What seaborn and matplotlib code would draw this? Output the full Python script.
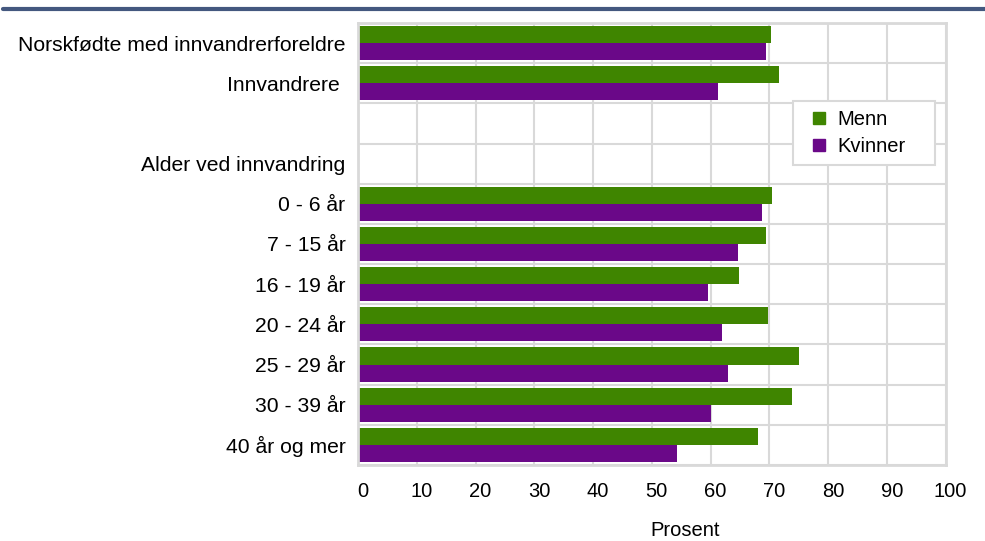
import numpy as np
import pandas as pd
import matplotlib
matplotlib.use("Agg")
import matplotlib.pyplot as plt
import matplotlib.transforms as mtransforms
from matplotlib.lines import Line2D
import seaborn as sns

# categories (top to bottom); blank row and header row have no bars
categories = ["Norskfødte med innvandrerforeldre", "Innvandrere ", " ",
              "Alder ved innvandring", "0 - 6 år", "7 - 15 år", "16 - 19 år",
              "20 - 24 år", "25 - 29 år", "30 - 39 år", "40 år og mer"]
menn = [70.2, 71.7, np.nan, np.nan, 70.4, 69.5, 64.9, 69.7, 75.0, 73.9, 68.0]
kvinner = [69.5, 61.3, np.nan, np.nan, 68.8, 64.7, 59.5, 62.0, 63.0, 60.1, 54.2]
series = ["Menn", "Kvinner"]
colors = ["#3F8500", "#6A0888"]

df = pd.DataFrame({"kategori": categories * 2,
                   "verdi": menn + kvinner,
                   "kjonn": [series[0]] * len(categories) + [series[1]] * len(categories)})

sns.set_style("white")
plt.rcParams["font.family"] = ["Liberation Sans", "DejaVu Sans"]
plt.rcParams["text.color"] = "black"
plt.rcParams["axes.labelcolor"] = "black"

fig = plt.figure(figsize=(9.85, 5.41), dpi=100)
ax = fig.add_axes([0.3635, 0.1405, 0.5965, 0.817])

sns.barplot(data=df, x="verdi", y="kategori", hue="kjonn", order=categories,
            hue_order=series, palette=colors, width=0.85, saturation=1,
            orient="h", ax=ax, legend=False, linewidth=0, edgecolor="none")

ax.set_xlim(0, 100)
ax.set_xticks(range(0, 101, 10))
ax.set_ylim(len(categories) - 0.5, -0.5)
ax.set_yticks(np.arange(len(categories) + 1) - 0.5, minor=True)
ax.grid(True, which="major", axis="x", color="#D9D9D9", lw=1.5)
ax.grid(True, which="minor", axis="y", color="#D9D9D9", lw=1.5)
ax.set_axisbelow(True)
ax.tick_params(axis="both", which="both", length=0, colors="black")
ax.tick_params(axis="x", pad=12, labelsize=14.5)
ax.tick_params(axis="y", pad=9, labelsize=15.2)
shift = mtransforms.ScaledTranslation(5 / 100, 0, fig.dpi_scale_trans)
for lbl in ax.get_xticklabels():
    lbl.set_transform(lbl.get_transform() + shift)
for s in ax.spines.values():
    s.set_color("#D9D9D9")
    s.set_linewidth(2)
ax.set_ylabel("")
ax.set_xlabel("Prosent", fontsize=14.5)
ax.xaxis.set_label_coords(0.556, -0.127)

handles = [Line2D([], [], ls="", marker="s", markersize=8, color=c) for c in colors]
leg = ax.legend(handles, series, loc="upper left", bbox_to_anchor=(0.74, 0.7235, 0.2415, 0.1),
                mode="expand", fontsize=14.5, frameon=True, fancybox=False,
                edgecolor="#D9D9D9", framealpha=1, handlelength=1.7, handletextpad=0.05,
                borderpad=0.45, labelspacing=0.4, borderaxespad=0)
leg.get_frame().set_linewidth(1.5)

# blue rule at top
fig.add_artist(Line2D([0.003, 1.0], [0.984, 0.984], color="#44587F", lw=3))

fig.savefig("out.png", dpi=100)
